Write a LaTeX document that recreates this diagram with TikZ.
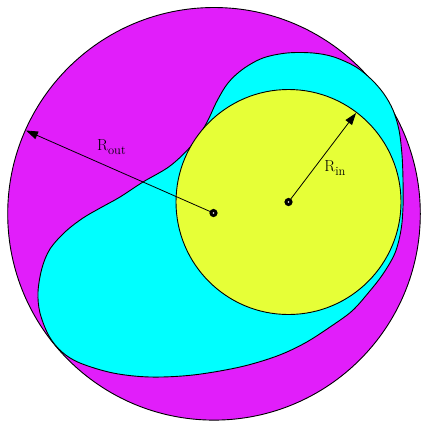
\documentclass[tikz,border=0pt]{standalone}
\usetikzlibrary{arrows.meta}
\definecolor{mag}{RGB}{225,30,250}
\definecolor{cya}{RGB}{0,255,255}
\definecolor{yel}{RGB}{230,255,55}
\begin{document}
\begin{tikzpicture}[x=1pt,y=-1pt,
  outline/.style={draw=black,line width=0.9pt},
  arr/.style={draw=black,line width=0.8pt,-{Triangle[length=12pt,width=8pt]}},
  centerdot/.style={circle,draw=black,fill=white,line width=3pt,minimum size=5pt,inner sep=0pt},
  lbl/.style={font=\fontsize{16}{18}\selectfont,inner sep=0pt}]
\useasboundingbox (0,0) rectangle (422,421);
\coordinate (co) at (213.5,213);
\coordinate (ci) at (288.5,202);
\coordinate (to) at (26,130.5);
\coordinate (ti) at (356,113);
% outer disc
\filldraw[outline,fill=mag] (214,213.8) circle[radius=206.3];
% cyan blob
\filldraw[outline,fill=cya] plot[smooth cycle,tension=0.55] coordinates {
 (120,197) (143,182) (170,166) (192,145) (206,124) (217,101) (228,83) (243,69)
 (263,58) (287,53) (313,53) (334,57) (356,67) (372,80) (384,94) (393,110)
 (399,130) (402,155) (403,180) (403,207) (401,230) (395,253) (383,274)
 (369,292) (352,311) (330,327) (305,343) (277,356) (240,367) (193,375) (150,377)
 (113,373) (80,363) (62,352) (49,336) (40,313) (38,292) (42,268) (50,249)
 (65,232) (83,218) (102,207)};
% yellow disc
\filldraw[outline,fill=yel] (ci) circle[radius=112.5];
% radii
\draw[arr] (co) -- (to);
\draw[arr] (ci) -- (ti);
\node[centerdot] (dout) at (co) {};
\node[centerdot] (din) at (ci) {};
\node[lbl] (lout) at (111.5,147) {R\raisebox{-3.5pt}{\fontsize{12.5}{13}\selectfont out}};
\node[lbl] (lin) at (335,168) {R\raisebox{-3.5pt}{\fontsize{12.5}{13}\selectfont in}};
\end{tikzpicture}
\end{document}
